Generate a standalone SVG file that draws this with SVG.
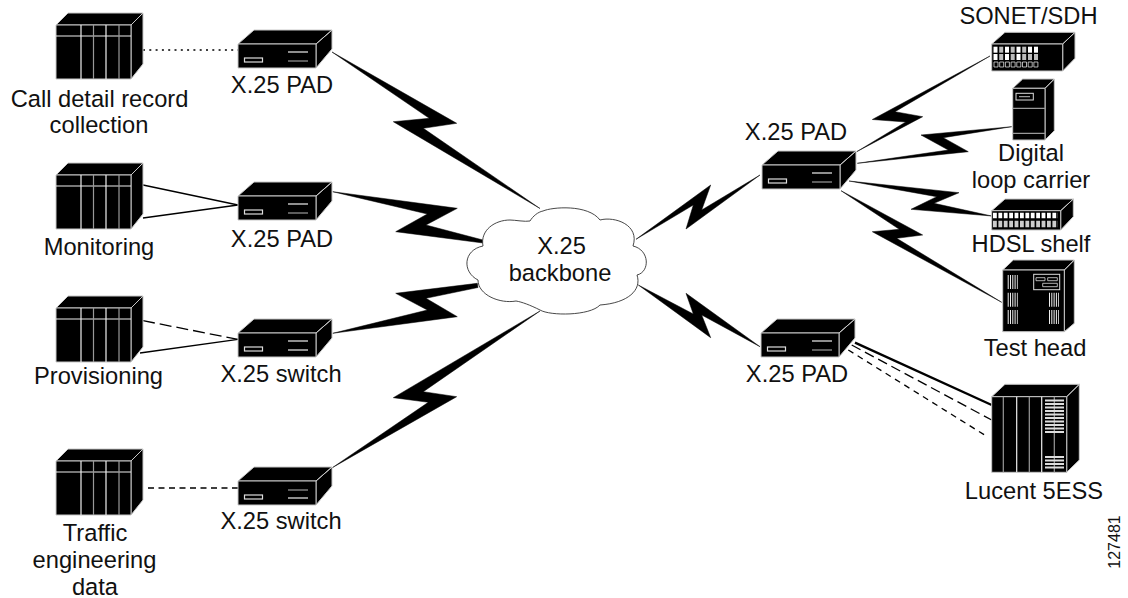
<svg xmlns="http://www.w3.org/2000/svg" width="1128" height="598" viewBox="0 0 1128 598">
<style>
text{font-family:"Liberation Sans",Arial,sans-serif;font-size:23.7px;fill:#111;text-anchor:middle}
.b{fill:#000;stroke:#c8c8c8;stroke-width:1;stroke-linejoin:round}
.w{stroke:#eee;stroke-width:1.2;fill:none}
.g{stroke:#999;stroke-width:1.2;fill:none}
.bolt{fill:#000;stroke:#000;stroke-width:0.5;stroke-linejoin:miter;stroke-miterlimit:20}
.ln{stroke:#000;stroke-width:1.3;fill:none}
.cell{fill:#fff}
.cg{fill:#bbb}
.bar{stroke:#eee;stroke-width:14;stroke-dasharray:1 1.3;fill:none}
.gr{stroke:#ddd;stroke-width:2;fill:none}
</style>
<defs>
<g id="server">
<path class="b" d="M0,12L12,0H87L75,12ZM75,12L87,0V51L75,66Z"/>
<rect class="b" x="0" y="12" width="75" height="54"/>
<path class="w" d="M0,23H75M25,12V66M50,12V66"/>
<path class="g" d="M37.500,12V66M63,12V66"/>
</g>
<g id="pad">
<path class="b" d="M0,14L16,0H94L78,14ZM78,14L94,0V19L78,38Z"/>
<rect class="b" x="0" y="14" width="78" height="24"/>
<rect x="6.500" y="28" width="18" height="4" fill="none" stroke="#ddd" stroke-width="1.2"/>
</g>
</defs>
<g id="connectors">
<path class="ln" d="M143,50H238" style="stroke-width:1.500;stroke-dasharray:2 4.300"/>
<path class="ln" d="M143,185L238,205M143,218L238,205"/>
<path class="ln" d="M143,320.700L238,339.300" style="stroke-dasharray:12 5"/>
<path class="ln" d="M140,353L238,339.300"/>
<path class="ln" d="M148,488H238" style="stroke-dasharray:6 4.500"/>
<path class="ln" d="M855,342.700L991.700,405" style="stroke-width:2.400"/>
<path class="ln" d="M851.700,345L991.700,420" style="stroke-dasharray:10 5"/>
<path class="ln" d="M848.300,350L988.300,437.300" style="stroke-dasharray:6 5"/>
<polygon class="bolt" points="332,52 456.700,123.300 423.300,128.300 540,208.500 393.300,121.700 429.300,118.300"/>
<polygon class="bolt" points="332.700,191.700 457.300,208.300 426,225 483,240 483,243 395.700,231.700 427.300,214"/>
<polygon class="bolt" points="332.700,333.300 427.300,310 395.700,293.300 477.300,283.300 478,287.500 426,298.300 457.300,316.700"/>
<polygon class="bolt" points="332.300,467.700 428.300,402.300 393.300,397.700 540,311 423.300,391.700 456.700,396.700"/>
<polygon class="bolt" points="636,239.300 710.700,185 701.700,210 760,175 686,229 693.300,205"/>
<polygon class="bolt" points="638.300,285 693.300,314 686,293.300 760,346.700 701.700,315 710.700,337.700"/>
<polygon class="bolt" points="856.700,151.700 922.700,116.700 895,111.700 990,56 872.300,119.500 905.700,122"/>
<polygon class="bolt" points="857.300,163.300 968.300,151.700 943.300,137.700 1011.700,126.700 921,135 948.300,150"/>
<polygon class="bolt" points="849,181 959,192.700 934,203.300 991.700,216 911,209.300 936.700,196.700"/>
<polygon class="bolt" points="841,190.700 922.700,235 896.700,238.300 1001.700,302.300 872.300,231.700 899.300,229.300"/>
</g>
<g id="cloud">
<path d="M543,211C552,207 588,204 600,220C615,216 640,225 633,246C650,250 650,272 637,275C642,290 628,303 600,305C590,316 550,316 540,310C530,305 522,302 516,301C500,304 478,295 478,280C462,272 463,250 483,246C480,230 495,220 510,220C515,220 525,222 530,221C533,216 538,212 543,211Z" fill="#fff" stroke="#333" stroke-width="0.9"/>
<text x="561.500" y="254">X.25</text>
<text x="560" y="280.700">backbone</text>
</g>
<g id="cdr"><use href="#server" x="56" y="13"/><text x="99.500" y="107">Call detail record</text><text x="99" y="133">collection</text></g>
<g id="monitoring"><use href="#server" x="56" y="163"/><text x="99" y="255">Monitoring</text></g>
<g id="provisioning"><use href="#server" x="56" y="296"/><text x="98.500" y="384">Provisioning</text></g>
<g id="traffic"><use href="#server" x="56" y="449"/><text x="95" y="540.700">Traffic</text><text x="94.500" y="568">engineering</text><text x="95" y="595">data</text></g>
<g id="pad1"><use href="#pad" x="238" y="30"/><path class="w" d="M288,52H308"/><path class="g" d="M288,61H308"/><text x="282" y="93">X.25 PAD</text></g>
<g id="pad2"><use href="#pad" x="238" y="182"/><path class="w" d="M288,204H308"/><path class="g" d="M288,213H308"/><text x="282" y="246.700">X.25 PAD</text></g>
<g id="switch1"><use href="#pad" x="238" y="319"/><path class="w" d="M288,341H308"/><path class="w" d="M288,350H308"/><text x="281" y="381.700">X.25 switch</text></g>
<g id="switch2"><use href="#pad" x="238" y="467"/><path class="g" d="M288,490H308"/><path class="w" d="M288,498H308"/><text x="281" y="529">X.25 switch</text></g>
<g id="padR1"><use href="#pad" x="762" y="151"/><path class="w" d="M812,173H832"/><path class="g" d="M812,182H832"/><text x="796" y="140">X.25 PAD</text></g>
<g id="padR2"><use href="#pad" x="761" y="319"/><path class="w" d="M812,341H832"/><path class="g" d="M812,350H832"/><text x="797" y="381.700">X.25 PAD</text></g>
<g id="sonet">
<path class="b" d="M991.700,44L1005,32.300H1075L1062.700,44ZM1062.700,44L1075,32.300V58.300L1062.700,71Z"/>
<rect class="b" x="991.700" y="44" width="71" height="27"/>
<g class="cell"><rect x="993.500" y="46.700" width="4" height="6"/><rect x="1005" y="46.700" width="4" height="6"/><rect x="1016.500" y="46.700" width="4" height="6"/><rect x="1028" y="46.700" width="4" height="6"/><rect x="1034" y="46.700" width="4" height="6"/><rect x="993.500" y="54" width="4" height="6"/><rect x="1005" y="54" width="4" height="6"/><rect x="1016.500" y="54" width="4" height="6"/></g>
<g class="cg"><rect x="999.200" y="46.700" width="4" height="6"/><rect x="1010.700" y="46.700" width="4" height="6"/><rect x="1022.200" y="46.700" width="4" height="6"/><rect x="999.200" y="54" width="4" height="6"/><rect x="1010.700" y="54" width="4" height="6"/><rect x="1022.200" y="54" width="4" height="6"/><rect x="1028" y="54" width="4" height="6"/><rect x="1034" y="54" width="4" height="6"/></g>
<path d="M994,62h4v5h-4zM999.700,62h4v5h-4zM1005.400,62h4v5h-4zM1011.100,62h4v5h-4zM1016.800,62h4v5h-4zM1022.500,62h4v5h-4zM1028.200,62h4v5h-4zM1033.900,62h4v5h-4z" fill="none" stroke="#ddd" stroke-width="0.8"/>
<text x="1028.500" y="24">SONET/SDH</text>
</g>
<g id="dlc">
<path class="b" d="M1012.700,88.300L1022.700,79H1054.300L1045,88.300ZM1045,88.300L1054.300,79V130.700L1045,140Z"/>
<rect class="b" x="1012.700" y="88.300" width="32.300" height="51.700"/>
<rect x="1016" y="93.300" width="17.300" height="6.700" fill="none" stroke="#ddd" stroke-width="1"/>
<path class="g" d="M1019,96.700H1030M1012.700,108.300H1045M1012.700,133.300H1045"/>
<text x="1031" y="160.700">Digital</text><text x="1031" y="187.700">loop carrier</text>
</g>
<g id="hdsl">
<path class="b" d="M991.700,210.700L1005,199H1073.300L1060.700,210.700ZM1060.700,210.700L1073.300,199V216.700L1060.700,230Z"/>
<rect class="b" x="991.700" y="210.700" width="69" height="19.300"/>
<path d="M993,215.500H1058" stroke="#fff" stroke-width="5.600" stroke-dasharray="3.800 1.600"/>
<path d="M993,224H1058" stroke="#ccc" stroke-width="6.400" stroke-dasharray="3.800 1.600"/>
<text x="1031" y="251.700">HDSL shelf</text>
</g>
<g id="testhead">
<path class="b" d="M1002.700,270L1013.300,260H1074.300L1064.300,270ZM1064.300,270L1074.300,260V323.300L1064.300,331.700Z"/>
<rect class="b" x="1002.700" y="270" width="61.600" height="61.700"/>
<path class="bar" d="M1007.700,282H1017.700M1007.700,299.700H1017.700M1007.700,317H1017.700M1049,299.700H1059M1049,317H1059"/>
<rect x="1033.700" y="274.300" width="26" height="15.400" fill="none" stroke="#ddd" stroke-width="1"/>
<path d="M1036,277.700h9v3h-9zM1047.700,277.700h9.600v3h-9.600zM1042.700,283.300h14.600v3.400h-14.600z" fill="none" stroke="#ddd" stroke-width="0.8"/>
<text x="1035" y="355.700">Test head</text>
</g>
<g id="ess">
<path class="b" d="M991.700,396.700L1005,384.300H1079.300L1066.700,396.700ZM1066.700,396.700L1079.300,384.300V460L1066.700,472.300Z"/>
<rect class="b" x="991.700" y="396.700" width="75" height="75.600"/>
<path class="w" d="M1016.700,396.700V472.300M1041.700,396.700V472.300"/>
<path class="g" d="M1003.300,396.700V472.300M1029.300,396.700V472.300M1054.300,396.700V472.300"/>
<path class="gr" d="M1045,400.500H1064M1045,404H1064M1045,407.500H1064M1045,411H1064M1045,414.500H1064M1045,418H1064M1045,421.500H1064M1045,425H1064M1045,428.500H1064M1045,432H1064M1045,457H1064M1045,460.500H1064M1045,464H1064M1045,467.500H1064"/>
<text x="1034" y="499.300">Lucent 5ESS</text>
</g>
<text id="figure-number" transform="translate(1120,542) rotate(-90)" style="font-size:16px">127481</text>
</svg>
